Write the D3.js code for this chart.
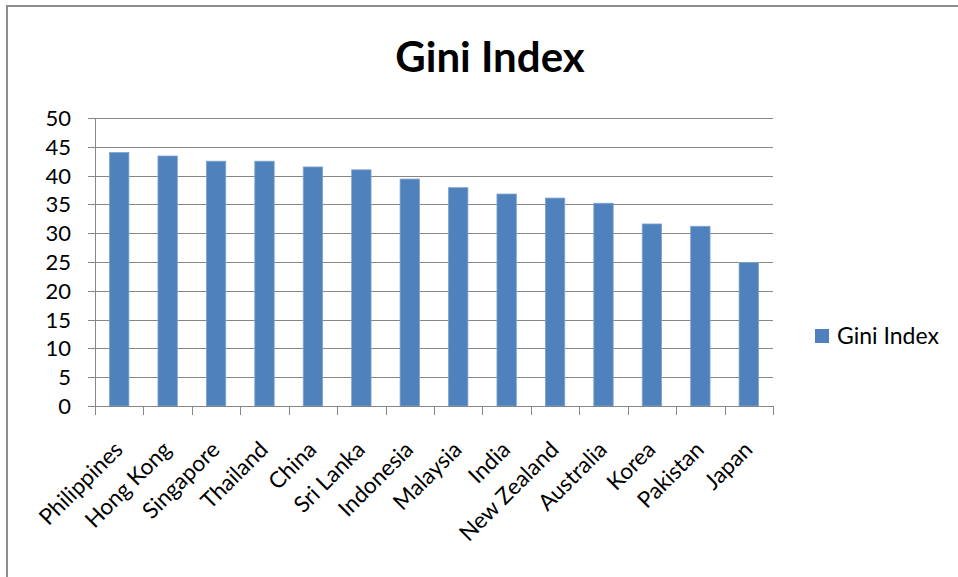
<!DOCTYPE html>
<html>
<head>
<meta charset="utf-8">
<script src="https://cdn.jsdelivr.net/npm/d3@7/dist/d3.min.js"></script>
<style>
  html, body { margin: 0; padding: 0; background: #fff; }
  svg { display: block; font-family: Lato, "Open Sans", sans-serif; }
</style>
</head>
<body>
<div id="chart"></div>
<script>
const countries = ['Philippines', 'Hong Kong', 'Singapore', 'Thailand', 'China', 'Sri Lanka',
  'Indonesia', 'Malaysia', 'India', 'New Zealand', 'Australia', 'Korea', 'Pakistan', 'Japan'];
const giniValues = [44.0, 43.4, 42.5, 42.5, 41.5, 41.0, 39.4, 37.9, 36.8, 36.1, 35.2, 31.6, 31.2, 24.9];
const yTicks = [0, 5, 10, 15, 20, 25, 30, 35, 40, 45, 50];
const seriesName = 'Gini Index';

const width = 958;
const height = 577;
const margin = { top: 118, right: 185, bottom: 171, left: 95 };
const innerW = width - margin.left - margin.right;
const innerH = height - margin.top - margin.bottom;
const barColor = '#4f81bd';
const lineColor = '#868686';

const svg = d3.select('#chart')
  .append('svg')
  .attr('width', width)
  .attr('height', height);

// outer chart frame (only top and left edges show in the crop)
svg.append('path')
  .attr('d', `M7,${height} V6 H${width}`)
  .attr('fill', 'none')
  .attr('stroke', '#8c8c8c')
  .attr('stroke-width', 2);

svg.append('text')
  .attr('x', 490)
  .attr('y', 72)
  .attr('text-anchor', 'middle')
  .style('font-size', '42px')
  .style('font-weight', 'bold')
  .attr('fill', '#000')
  .text(seriesName);

const x = d3.scaleBand()
  .domain(countries)
  .range([0, innerW])
  .paddingInner(0.6)
  .paddingOuter(0.3);

const y = d3.scaleLinear()
  .domain([0, 50])
  .range([innerH, 0]);

const g = svg.append('g')
  .attr('transform', `translate(${margin.left},${margin.top})`);

// gridlines + y ticks
g.append('g')
  .selectAll('line')
  .data(yTicks)
  .join('line')
  .attr('x1', -7)
  .attr('x2', innerW)
  .attr('y1', (d) => Math.round(y(d)) + 0.5)
  .attr('y2', (d) => Math.round(y(d)) + 0.5)
  .attr('stroke', lineColor)
  .attr('stroke-width', 1);

g.append('g')
  .selectAll('text')
  .data(yTicks)
  .join('text')
  .attr('x', -24)
  .attr('y', (d) => y(d))
  .attr('dy', '0.36em')
  .attr('text-anchor', 'end')
  .style('font-size', '22px')
  .attr('fill', '#000')
  .text((d) => d);

// y axis line
g.append('line')
  .attr('x1', 0.5).attr('x2', 0.5)
  .attr('y1', 0).attr('y2', innerH)
  .attr('stroke', lineColor);

// bars
g.append('g')
  .selectAll('rect')
  .data(giniValues)
  .join('rect')
  .attr('x', (d, i) => x(countries[i]))
  .attr('width', x.bandwidth())
  .attr('y', (d) => y(d))
  .attr('height', (d) => innerH - y(d))
  .attr('fill', barColor)
  .attr('stroke', '#7fa3d0')
  .attr('stroke-width', 0.8);

// x axis line and category ticks
const step = x.step();
g.append('line')
  .attr('x1', 0).attr('x2', innerW)
  .attr('y1', innerH + 0.5).attr('y2', innerH + 0.5)
  .attr('stroke', lineColor);

g.append('g')
  .selectAll('line')
  .data(d3.range(countries.length + 1))
  .join('line')
  .attr('x1', (i) => Math.round(i * step) + 0.5)
  .attr('x2', (i) => Math.round(i * step) + 0.5)
  .attr('y1', innerH)
  .attr('y2', innerH + 9)
  .attr('stroke', lineColor);

g.append('g')
  .selectAll('text')
  .data(countries)
  .join('text')
  .attr('transform', (d) => `translate(${x(d) + x.bandwidth() / 2 + 5},${innerH + 45}) rotate(-45)`)
  .attr('text-anchor', 'end')
  .style('font-size', '22.5px')
  .attr('fill', '#000')
  .text((d) => d);

// legend
const legend = svg.append('g').attr('transform', 'translate(815,329)');
legend.append('rect')
  .attr('width', 14)
  .attr('height', 14)
  .attr('fill', barColor);
legend.append('text')
  .attr('x', 22)
  .attr('y', 7)
  .attr('dy', '0.36em')
  .style('font-size', '23px')
  .attr('fill', '#000')
  .text(seriesName);
</script>
</body>
</html>
